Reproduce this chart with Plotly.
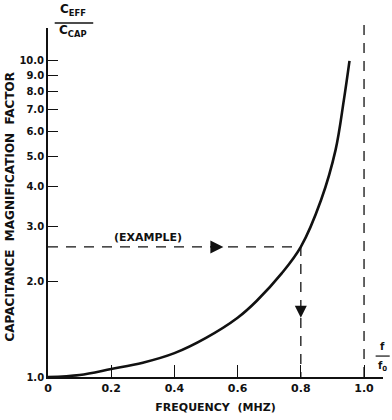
import math
import plotly.graph_objects as go

# Data
freq_ratio = [0.0, 0.1, 0.2, 0.3, 0.4, 0.5, 0.6, 0.66, 0.74, 0.8, 0.864, 0.91, 0.936, 0.954]
cap_factor = [1.0, 1.015, 1.06, 1.11, 1.19, 1.33, 1.54, 1.74, 2.13, 2.58, 3.63, 5.23, 7.5, 10.0]

y_ticks = [1, 2, 3, 4, 5, 6, 7, 8, 9, 10]
y_tick_labels = ["1.0", "2.0", "3.0", "4.0", "5.0", "6.0", "7.0", "8.0", "9.0", "10.0"]
x_ticks = [0, 0.2, 0.4, 0.6, 0.8, 1.0]
x_tick_labels = ["0", "0.2", "0.4", "0.6", "0.8", "1.0"]

example_x = 0.8
example_y = 2.58
f0 = 1.0
arrow_right_x = 0.555
arrow_down_y = 1.54
example_label_x = 0.316
example_label_y = 2.77

FONT = "DejaVu Sans"
BLACK = "#111111"

fig = go.Figure()

fig.add_trace(go.Scatter(
    x=freq_ratio, y=cap_factor, mode="lines",
    line=dict(color=BLACK, width=2.6, shape="spline", smoothing=1.0),
    hoverinfo="skip", showlegend=False))

# example dashed lines
fig.add_trace(go.Scatter(
    x=[0, example_x, example_x], y=[example_y, example_y, 1.0], mode="lines",
    line=dict(color=BLACK, width=1.3, dash="10px,8px"),
    hoverinfo="skip", showlegend=False))

# arrow heads
fig.add_trace(go.Scatter(
    x=[arrow_right_x], y=[example_y], mode="markers",
    marker=dict(symbol="arrow-right", size=13, color=BLACK),
    hoverinfo="skip", showlegend=False))
fig.add_trace(go.Scatter(
    x=[example_x], y=[arrow_down_y], mode="markers",
    marker=dict(symbol="arrow-down", size=12, color=BLACK),
    hoverinfo="skip", showlegend=False))

# f0 asymptote
fig.add_shape(type="line", xref="x", yref="paper", x0=f0, x1=f0, y0=0, y1=1.01,
              line=dict(color=BLACK, width=1.3, dash="10px,8px"))

# annotation y on a log axis is given in log10 units
fig.add_annotation(x=example_label_x, y=math.log10(example_label_y), text="<b>(EXAMPLE)</b>",
                   showarrow=False, font=dict(family=FONT, size=11, color=BLACK))

# y-axis title
fig.add_annotation(xref="paper", yref="paper", x=-0.112, y=0.49, xanchor="center", yanchor="middle",
                   text="<b>CAPACITANCE  MAGNIFICATION  FACTOR</b>", textangle=-90,
                   showarrow=False, font=dict(family=FONT, size=12, color=BLACK))

# Ceff / Ccap label
fig.add_annotation(xref="paper", yref="paper", x=0.075, y=1.022, xanchor="center", yanchor="bottom",
                   text="<b>C<sub>EFF</sub></b>", showarrow=False,
                   font=dict(family=FONT, size=12, color=BLACK))
fig.add_annotation(xref="paper", yref="paper", x=0.075, y=1.02, xanchor="center", yanchor="top",
                   text="<b>C<sub>CAP</sub></b>", showarrow=False,
                   font=dict(family=FONT, size=12, color=BLACK))
fig.add_shape(type="line", xref="paper", yref="paper", x0=0.02, x1=0.135, y0=1.0145, y1=1.0145,
              line=dict(color=BLACK, width=1.5))

# f / f0 label
fig.add_annotation(xref="paper", yref="paper", x=0.998, y=0.086, xanchor="center", yanchor="middle",
                   text="<b>f</b>", showarrow=False, font=dict(family=FONT, size=10, color=BLACK))
fig.add_annotation(xref="paper", yref="paper", x=0.998, y=0.03, xanchor="center", yanchor="middle",
                   text="<b>f<sub>0</sub></b>", showarrow=False, font=dict(family=FONT, size=10, color=BLACK))
fig.add_shape(type="line", xref="paper", yref="paper", x0=0.978, x1=1.02, y0=0.06, y1=0.06,
              line=dict(color=BLACK, width=1.2))

fig.update_layout(
    width=392, height=420,
    margin=dict(l=48, r=9, t=28, b=43),
    paper_bgcolor="white", plot_bgcolor="white",
    font=dict(family=FONT, color=BLACK),
    showlegend=False,
    xaxis=dict(
        range=[0, 1.06], tickvals=x_ticks, ticktext=[f"<b>{t}</b>" for t in x_tick_labels],
        ticks="inside", ticklen=12, tickwidth=1.3, tickcolor=BLACK,
        showline=True, linecolor=BLACK, linewidth=1.8, showgrid=False, zeroline=False,
        tickfont=dict(family=FONT, size=11, color=BLACK),
        title=dict(text="<b>FREQUENCY  (MHZ)</b>", font=dict(family=FONT, size=11, color=BLACK), standoff=9),
    ),
    yaxis=dict(
        type="log", range=[0, 1.104], tickvals=y_ticks, ticktext=[f"<b>{t}</b>" for t in y_tick_labels],
        ticks="inside", ticklen=10, tickwidth=1.3, tickcolor=BLACK,
        showline=True, linecolor=BLACK, linewidth=1.8, showgrid=False, zeroline=False,
        tickfont=dict(family=FONT, size=10, color=BLACK),
    ),
)

fig.write_html("out.html", config={"displayModeBar": False},
               post_script="document.body.style.margin='0';document.body.style.overflow='hidden';")
